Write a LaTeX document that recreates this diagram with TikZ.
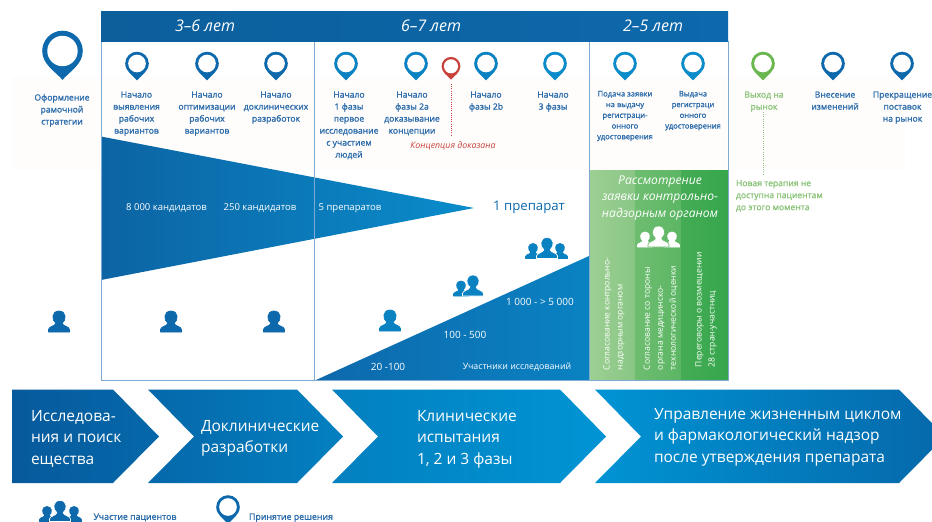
\documentclass[tikz,border=0pt]{standalone}
\usepackage{fontspec}
\setmainfont{Open Sans}
\newfontfamily\semi[RawFeature={embolden=1.4}]{Open Sans}
\definecolor{tblue}{HTML}{2E6DAB}
\definecolor{tgreen}{HTML}{8CC47A}
\definecolor{pdark}{HTML}{0D69AC}
\definecolor{pmid}{HTML}{0A82C2}
\definecolor{plight}{HTML}{0A8CCB}
\definecolor{pgreen}{HTML}{6AB750}
\definecolor{pred}{HTML}{C9423A}
\definecolor{frameblue}{HTML}{7FABD3}
\definecolor{bandtint}{HTML}{FEFDFC}
\definecolor{gaa}{RGB}{157,208,148}
\definecolor{gab}{RGB}{137,198,132}
\definecolor{gba}{RGB}{110,189,112}
\definecolor{gbb}{RGB}{92,182,100}
\definecolor{gca}{RGB}{68,172,84}
\definecolor{gcb}{RGB}{54,166,76}
\definecolor{cha}{RGB}{6,90,156}
\definecolor{chb}{RGB}{5,104,170}
\definecolor{chc}{RGB}{3,128,192}
\definecolor{chd}{RGB}{0,148,212}
\definecolor{hdmid}{RGB}{0,146,208}
\newcommand{\mypin}[4]{%x,y,radius,colour
  \begin{scope}[shift={(#1,#2)},x=#3pt,y=-#3pt]
    \fill[#4] (0,1.42) .. controls (-.35,1.02) and (-1,.65) .. (-1,0)
      .. controls (-1,-.55) and (-.55,-1) .. (0,-1)
      .. controls (.55,-1) and (1,-.55) .. (1,0)
      .. controls (1,.65) and (.35,1.02) .. (0,1.42) -- cycle;
    \fill[white] (0,.75) .. controls (.41,.75) and (.75,.41) .. (.75,0)
      .. controls (.75,-.41) and (.41,-.75) .. (0,-.75)
      .. controls (-.41,-.75) and (-.75,-.41) .. (-.75,0)
      .. controls (-.75,.41) and (-.41,.75) .. (0,.75) -- cycle;
  \end{scope}}
\newcommand{\myperson}[5]{%x,bottom y,size,colour,outline
  \begin{scope}[shift={(#1,#2)},x=#3pt,y=#3pt]
    \path[fill=#4,draw=#5,line width=.7pt,line join=round] (-.5,0) -- (-.5,.12)
      .. controls (-.5,.27) and (-.17,.27) .. (-.15,.42)
      .. controls (-.36,.55) and (-.36,1) .. (0,1)
      .. controls (.36,1) and (.36,.55) .. (.15,.42)
      .. controls (.17,.27) and (.5,.27) .. (.5,.12) -- (.5,0) -- cycle;
  \end{scope}}
\tikzset{
  every node/.style={inner sep=0pt,outer sep=0pt},
  lab/.style={align=center,anchor=north,text=tblue,font=\fontsize{8.6}{12}\selectfont\semi},
  labsm/.style={align=center,anchor=north,text=tblue,font=\fontsize{7.6}{10.7}\selectfont\semi},
  labgr/.style={align=center,anchor=north,text=tgreen,font=\fontsize{8.6}{12}\selectfont\semi},
  wlab/.style={text=white,anchor=center,font=\fontsize{9.5}{11}\selectfont},
  nlab/.style={text=white,anchor=center,font=\fontsize{10}{11}\selectfont},
  head/.style={text=white,anchor=center,font=\fontsize{16}{18}\selectfont\itshape},
  chev/.style={text=white,align=left,anchor=north west,font=\fontsize{15.5}{21.4}\selectfont},
  vert/.style={text=white,rotate=90,anchor=west,align=left,font=\fontsize{8.5}{13}\selectfont},
  frameline/.style={draw=frameblue,line width=1pt},
  dotline/.style={line width=.8pt,dash pattern=on 1pt off 1.2pt},
}
\begin{document}
\begin{tikzpicture}[x=1pt,y=-1pt]
\useasboundingbox (0,0) rectangle (932,522);
\fill[white] (0,0) rectangle (932,522);
\fill[bandtint] (12,77) rectangle (905,170);

% main box
\fill[white] (101,41) rectangle (728,380);
\fill[bandtint] (102,77) rectangle (727,170);

% wedge, rising triangle
\shade[left color=pdark!95!black,right color=plight] (101,136.5) -- (474,208) -- (101,280) -- cycle;
\shade[left color=pdark,right color=pmid] (316,380) -- (589,256) -- (589,380) -- cycle;

% green panel
\shade[left color=gaa,right color=gab] (589,170) rectangle (635,380);
\shade[left color=gba,right color=gbb] (635,170) rectangle (681,380);
\shade[left color=gca,right color=gcb] (681,170) rectangle (728,380);

% frame
\draw[frameline] (101,41) -- (101,380) -- (728,380) -- (728,41);
\draw[frameline] (314,41) -- (314,380);
\draw[frameline] (589,41) -- (589,380);

% header
\shade[left color=pdark!90!black,middle color=hdmid,right color=pdark] (101,11) rectangle (728,41);
\node[head] (h1) at (205,26) {3–6 лет};
\node[head] (h2) at (431,26) {6–7 лет};
\node[head] (h3) at (653,26) {2–5 лет};

% pins
\mypin{62.5}{51}{20.3}{pdark}
\mypin{137}{63.5}{11.8}{pdark}
\mypin{207}{63.5}{11.8}{pdark}
\mypin{276}{63.5}{11.8}{pdark}
\mypin{346}{63.5}{11.8}{pmid}
\mypin{416}{63.5}{11.8}{pmid}
\mypin{486}{63.5}{11.8}{pmid}
\mypin{555}{63.5}{11.8}{plight}
\mypin{625}{63.5}{11.8}{plight}
\mypin{693}{63.5}{11.8}{plight}
\mypin{763}{63.5}{11.8}{pgreen}
\mypin{833}{63.5}{11.8}{pdark}
\mypin{902}{63.5}{11.8}{pdark}
\mypin{451}{66.3}{9.4}{pred}
\mypin{228}{507}{11.8}{pdark}

% upper labels
\node[lab] (a0) at (62,94) {Оформление\\рамочной\\стратегии};
\node[lab] (a1) at (136.5,91.5) {Начало\\выявления\\рабочих\\вариантов};
\node[lab] (a2) at (207,91.5) {Начало\\оптимизации\\рабочих\\вариантов};
\node[lab] (a3) at (276,91.5) {Начало\\доклинических\\разработок};
\node[lab] (b1) at (349,91.5) {Начало\\1 фазы\\первое\\исследование\\с участием\\людей};
\node[lab] (b2) at (412,91.5) {Начало\\фазы 2а\\доказывание\\концепции};
\node[lab] (b3) at (486,91.5) {Начало\\фазы 2b};
\node[lab] (b4) at (553,91.5) {Начало\\3 фазы};
\node[labsm] (c1) at (625,91) {Подача заявки\\на выдачу\\регистраци-\\онного\\удостоверения};
\node[labsm] (c2) at (693,91) {Выдача\\регистраци\\онного\\удостоверения};
\node[labgr] (d1) at (764,91.5) {Выход на\\рынок};
\node[lab] (d2) at (835,91.5) {Внесение\\изменений};
\node[lab] (d3) at (902.5,91.5) {Прекращение\\поставок\\на рынок};

% proof of concept
\coordinate (redA) at (451,84);
\coordinate (redB) at (451,136);
\draw[dotline,pred] (redA) -- (redB);
\node[anchor=center,text=pred,font=\fontsize{8.8}{11}\selectfont\itshape] (red) at (453,146) {Концепция доказана};

% market entry
\coordinate (grA) at (763.5,112);
\coordinate (grB) at (763.5,174);
\draw[dotline,tgreen] (grA) -- (grB);
\node[labgr,align=left,anchor=north west] (gr) at (736,180) {Новая терапия не\\доступна пациентам\\до этого момента};

% wedge labels
\node[wlab] (w1) at (166.5,208) {8 000 кандидатов};
\node[wlab] (w2) at (260,208) {250 кандидатов};
\node[wlab] (w3) at (350,208) {5 препаратов};
\node[anchor=center,text=pdark,font=\fontsize{13.2}{15}\selectfont] (w4) at (529,207.5) {1 препарат};
\node[nlab] (n1) at (540,302) {1 000 - > 5 000};
\node[nlab] (n2) at (465,335) {100 - 500};
\node[nlab] (n3) at (388,367) {20 -100};
\node[nlab,font=\fontsize{8.8}{10}\selectfont] (n4) at (517,367) {Участники исследований};

% persons
\myperson{59}{332}{21}{pdark}{pdark}
\myperson{171}{332}{21}{pdark}{pdark}
\myperson{274}{332}{21}{pdark}{pdark}
\myperson{390}{331}{21}{pmid}{pmid}
\myperson{461}{296}{15}{pmid}{pmid}
\myperson{473}{296}{21}{pmid}{white}
\myperson{533}{258.5}{15}{pmid}{pmid}
\myperson{560}{258.5}{15}{pmid}{pmid}
\myperson{547}{258.5}{21}{pmid}{white}
\myperson{645}{247}{15}{white}{white}
\myperson{672}{247}{15}{white}{white}
\myperson{658.5}{247}{21}{white}{gba}
\myperson{47}{521.5}{15}{pdark}{pdark}
\myperson{74}{521.5}{15}{pdark}{pdark}
\myperson{60}{521.5}{21}{pdark}{white}

% green panel text
\node[text=white,anchor=center,align=center,font=\fontsize{12.1}{16.5}\selectfont\itshape] (g0) at (660,198) {Рассмотрение\\заявки контрольно-\\надзорным органом};
\node[vert] (v1) at (614,370) {Согласование контрольно-\\надзорным органом};
\node[vert] (v2) at (660.5,370) {Согласование со тороны\\органа медицинско-\\технологической оценки};
\node[vert] (v3) at (706,367) {Переговоры о возмещении\\28 стран-участниц};

% chevrons
\shade[left color=cha,right color=chb] (12,389.5) -- (113,389.5) -- (159,436.5) -- (113,483) -- (12,483) -- cycle;
\shade[left color=chb,right color=chc] (148,389.5) -- (297,389.5) -- (343,436.5) -- (297,483) -- (148,483) -- (194,436.5) -- cycle;
\shade[left color=chc,right color=chd] (332,389.5) -- (560,389.5) -- (606,436.5) -- (560,483) -- (332,483) -- (378,436.5) -- cycle;
\shade[left color=chd,right color=chb] (595,389.5) -- (899,389.5) -- (945,436.5) -- (899,483) -- (595,483) -- (641,436.5) -- cycle;
\node[chev] (k1) at (31,410.5) {Исследова-\\ния и поиск\\ещества};
\node[chev] (k2) at (201,420) {Доклинические\\разработки};
\node[chev] (k3) at (417,410.5) {Клинические\\испытания\\1, 2 и 3 фазы};
\node[chev] (k4) at (654,408.5) {Управление жизненным циклом\\и фармакологический надзор\\после утверждения препарата};

% legend
\node[labsm,font=\fontsize{8.8}{10}\selectfont\semi] (l1) at (135,513.5) {Участие пациентов};
\node[labsm,font=\fontsize{8.8}{10}\selectfont\semi] (l2) at (291,513.5) {Принятие решения};
\end{tikzpicture}
\end{document}
